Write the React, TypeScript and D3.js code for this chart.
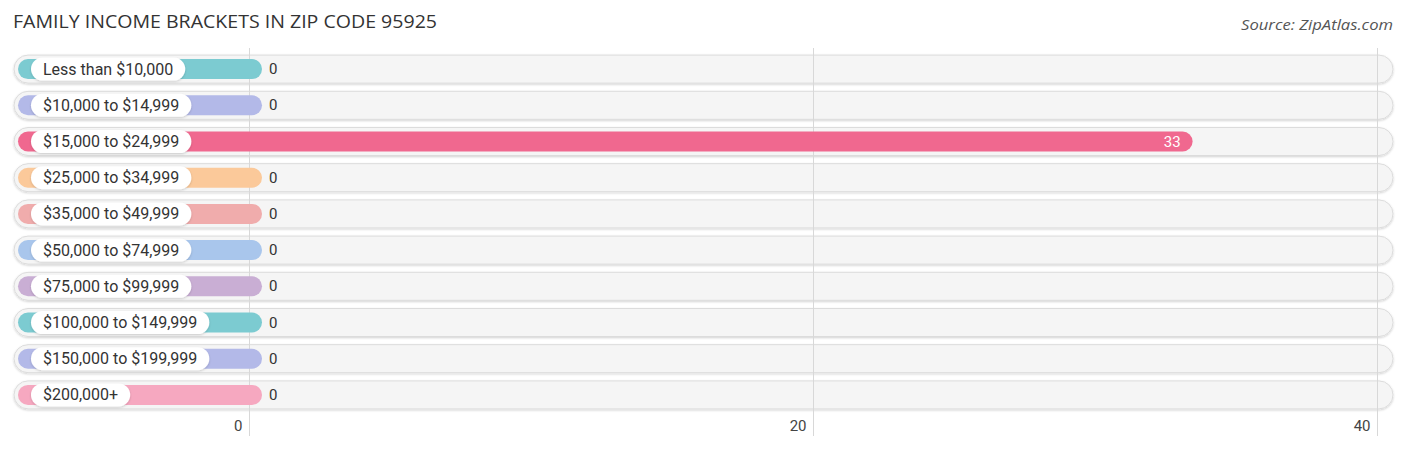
import React, { useEffect, useRef } from "react";
import * as d3 from "d3";

const categories = [
  "Less than $10,000",
  "$10,000 to $14,999",
  "$15,000 to $24,999",
  "$25,000 to $34,999",
  "$35,000 to $49,999",
  "$50,000 to $74,999",
  "$75,000 to $99,999",
  "$100,000 to $149,999",
  "$150,000 to $199,999",
  "$200,000+",
];
const values = [0, 0, 33, 0, 0, 0, 0, 0, 0, 0];
const colors = [
  "#7ccbd1", "#b3b9e8", "#f0688f", "#fbc99a", "#f0acac",
  "#a9c6ec", "#c9aed4", "#7ccbd1", "#b3b9e8", "#f6a8c0",
];
const ticks = [0, 20, 40];
const title = "FAMILY INCOME BRACKETS IN ZIP CODE 95925";
const source = "Source: ZipAtlas.com";

const W = 1406;
const H = 450;

export default function App() {
  const ref = useRef<SVGSVGElement>(null);
  useEffect(() => {
    const svg = d3.select(ref.current);
    svg.selectAll("*").remove();
    const font = "Roboto, 'Open Sans', sans-serif";

    const x = d3.scaleLinear().domain([0, 40]).range([249.5, 1377.5]);
    const y = d3.scaleBand<string>().domain(categories).range([51, 413]).paddingInner(0);

    const defs = svg.append("defs");
    const f = defs.append("filter").attr("id", "sh").attr("x", "-10%").attr("y", "-50%").attr("width", "120%").attr("height", "200%");
    f.append("feDropShadow").attr("dx", 0).attr("dy", 1).attr("stdDeviation", 1.2).attr("flood-color", "#000").attr("flood-opacity", 0.18);

    const t = svg.append("text").attr("x", 13).attr("y", 28).attr("font-family", "'Open Sans', sans-serif")
      .attr("font-size", 18).attr("fill", "#333").text(title);
    const tw = (t.node() as SVGTextElement).getComputedTextLength();
    t.attr("textLength", 424).attr("lengthAdjust", "spacingAndGlyphs");
    void tw;
    svg.append("text").attr("x", 1393).attr("y", 30).attr("text-anchor", "end").attr("font-style", "italic")
      .attr("font-family", "'Open Sans', sans-serif").attr("font-size", 15).attr("fill", "#555")
      .attr("textLength", 152).attr("lengthAdjust", "spacingAndGlyphs").text(source);

    const rows = svg.append("g");
    categories.forEach((c) => {
      const cy = (y(c) as number) + y.bandwidth() / 2;
      rows.append("rect").attr("x", 14).attr("y", cy - 14).attr("width", 1379).attr("height", 28)
        .attr("rx", 14).attr("fill", "#f5f5f5").attr("stroke", "#dcdcdc").attr("stroke-width", 1)
        .attr("filter", "url(#sh)");
    });

    ticks.forEach((tk) => {
      svg.append("line").attr("x1", x(tk)).attr("x2", x(tk)).attr("y1", 48).attr("y2", 436)
        .attr("stroke", "#d8d8d8").attr("stroke-width", 1);
      svg.append("text").attr("x", x(tk) - 7).attr("y", 431).attr("text-anchor", "end")
        .attr("font-family", font).attr("font-size", 15).attr("fill", "#444").text(String(tk));
    });

    categories.forEach((c, i) => {
      const cy = (y(c) as number) + y.bandwidth() / 2;
      const v = values[i];
      const end = x(v) + 12.5;
      svg.append("rect").attr("x", 18).attr("y", cy - 10).attr("width", end - 18).attr("height", 20)
        .attr("rx", 10).attr("fill", colors[i]);
      const g = svg.append("g");
      const txt = g.append("text").attr("x", 43).attr("y", cy + 5.5).attr("font-family", font)
        .attr("font-size", 16).attr("fill", "#333").text(c);
      const w = (txt.node() as SVGTextElement).getComputedTextLength();
      g.insert("rect", "text").attr("x", 31).attr("y", cy - 11.5).attr("width", w + 24).attr("height", 23)
        .attr("rx", 11.5).attr("fill", "#fff").attr("filter", "url(#sh)");
      if (v > 0) {
        svg.append("text").attr("x", end - 12).attr("y", cy + 5).attr("text-anchor", "end")
          .attr("font-family", font).attr("font-size", 15).attr("fill", "#fff").text(String(v));
      } else {
        svg.append("text").attr("x", end + 7).attr("y", cy + 5).attr("font-family", font)
          .attr("font-size", 15).attr("fill", "#333").text(String(v));
      }
    });
  }, []);
  return <svg ref={ref} width={W} height={H} style={{ display: "block", position: "absolute", left: 0, top: 0 }} />;
}
